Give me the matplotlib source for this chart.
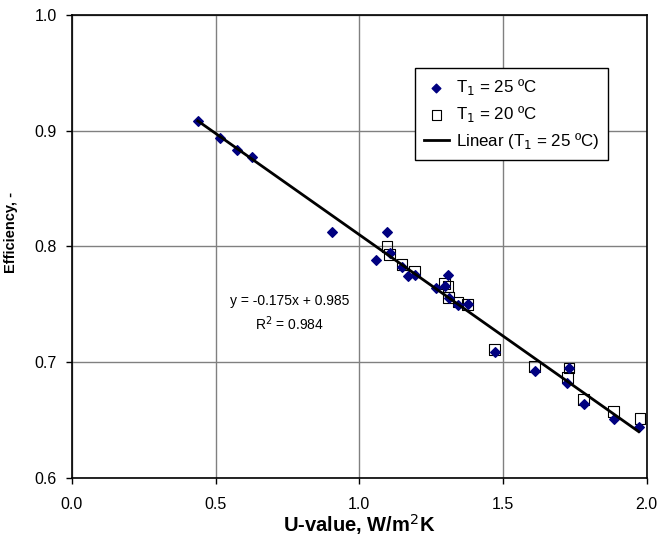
import matplotlib.pyplot as plt

plt.rcParams['font.family'] = ['Liberation Sans', 'DejaVu Sans']

# T1 = 25 C series
u_25 = [0.438, 0.515, 0.574, 0.626, 0.904, 1.096, 1.057, 1.106, 1.148, 1.169,
        1.193, 1.266, 1.297, 1.308, 1.311, 1.343, 1.377, 1.471, 1.610, 1.729,
        1.722, 1.781, 1.885, 1.972]
eff_25 = [0.908, 0.894, 0.883, 0.877, 0.812, 0.812, 0.788, 0.794, 0.782, 0.774,
          0.775, 0.764, 0.766, 0.775, 0.755, 0.749, 0.750, 0.709, 0.692, 0.695,
          0.682, 0.664, 0.651, 0.644]

# T1 = 20 C series
u_20 = [1.096, 1.106, 1.148, 1.193, 1.297, 1.308, 1.311, 1.343, 1.377, 1.471,
        1.610, 1.729, 1.725, 1.781, 1.885, 1.976]
eff_20 = [0.800, 0.793, 0.784, 0.778, 0.768, 0.765, 0.756, 0.752, 0.750, 0.711,
          0.696, 0.695, 0.687, 0.668, 0.657, 0.651]

# trendline
slope, intercept = -0.175, 0.985
trend_x = [min(u_25), max(u_25)]
trend_y = [slope * x + intercept for x in trend_x]

fig = plt.figure(figsize=(6.6, 5.48), dpi=100)
ax = fig.add_axes([0.109, 0.128, 0.871, 0.845])

ax.scatter(u_25, eff_25, marker='D', s=24, color='#000080', zorder=3,
           label='T$_1$ = 25 ºC')
ax.scatter(u_20, eff_20, marker='s', s=60, facecolors='none', edgecolors='black',
           linewidths=0.8, zorder=2, label='T$_1$ = 20 ºC')
ax.plot(trend_x, trend_y, color='black', lw=2, zorder=4,
        label='Linear (T$_1$ = 25 ºC)')

ax.text(0.758, 0.753, 'y = -0.175x + 0.985', ha='center', va='center', fontsize=10)
ax.text(0.758, 0.733, 'R$^2$ = 0.984', ha='center', va='center', fontsize=10)

ax.set_xlim(0, 2.0)
ax.set_ylim(0.6, 1.0)
ax.set_xticks([0.0, 0.5, 1.0, 1.5, 2.0])
ax.set_yticks([0.6, 0.7, 0.8, 0.9, 1.0])
ax.xaxis.set_major_formatter(plt.FormatStrFormatter('%.1f'))
ax.yaxis.set_major_formatter(plt.FormatStrFormatter('%.1f'))
ax.tick_params(direction='out', length=4, width=1, labelsize=11.5)
ax.tick_params(axis='x', pad=10)
ax.tick_params(axis='y', pad=7)
ax.grid(True, color='#808080', lw=1)
ax.set_axisbelow(True)
for s in ax.spines.values():
    s.set_linewidth(1.2)

ax.set_xlabel('U-value, W/m$^2$K', fontsize=14.5, fontweight='bold', labelpad=0)
ax.set_ylabel('Efficiency, -', fontsize=10.5, fontweight='bold')
ax.yaxis.set_label_coords(-0.094, 0.531)

leg = ax.legend(loc='upper left', bbox_to_anchor=(0.5965, 0.885), borderaxespad=0,
                fontsize=12.2, frameon=True, fancybox=False, edgecolor='black',
                framealpha=1, handlelength=1.45, borderpad=0.55, labelspacing=0.4,
                handletextpad=0.4, markerscale=0.9)
leg.get_frame().set_linewidth(1)

fig.savefig('out.png', dpi=100)
